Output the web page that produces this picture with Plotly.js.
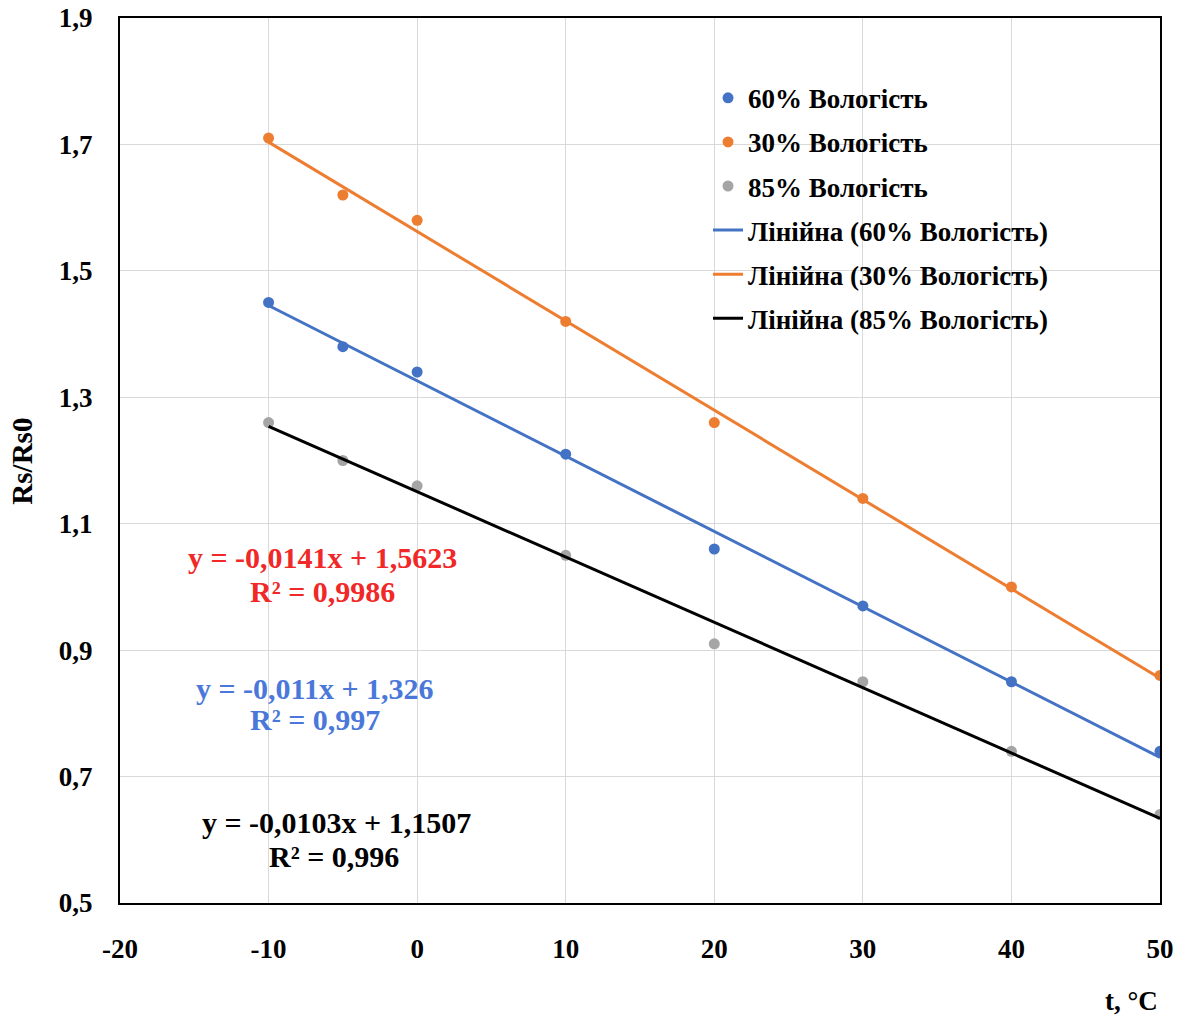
<!DOCTYPE html>
<html>
<head>
<meta charset="utf-8">
<script src="https://cdn.plot.ly/plotly-3.0.1.min.js"></script>
<style>html,body{margin:0;padding:0;background:#fff;}#chart{width:1184px;height:1019px;}</style>
</head>
<body>
<div id="chart"></div>
<script>
// ---- data ----
const temperature = [-10, -5, 0, 10, 20, 30, 40, 50];
const humidity60 = [1.45, 1.38, 1.34, 1.21, 1.06, 0.97, 0.85, 0.74];
const humidity30 = [1.71, 1.62, 1.58, 1.42, 1.26, 1.14, 1.00, 0.86];
const humidity85 = [1.26, 1.20, 1.16, 1.05, 0.91, 0.85, 0.74, 0.64];
const seriesNames = ['60% Вологість', '30% Вологість', '85% Вологість'];
const trendNames = ['Лінійна (60% Вологість)', 'Лінійна (30% Вологість)', 'Лінійна (85% Вологість)'];
const eqLines = ['y = -0,0141x + 1,5623', 'y = -0,011x + 1,326', 'y = -0,0103x + 1,1507'];
const r2Lines = ['R² = 0,9986', 'R² = 0,997', 'R² = 0,996'];
const xTicks = [-20, -10, 0, 10, 20, 30, 40, 50];
const yTicks = [0.5, 0.7, 0.9, 1.1, 1.3, 1.5, 1.7, 1.9];

const markerColors = ['#4472C4', '#ED7D31', '#A5A5A5'];
const lineColors = ['#4472C4', '#ED7D31', '#000000'];
const eqColors = ['#F02828', '#4A78DA', '#000000'];

function fit(xs, ys) {
  const n = xs.length;
  const mx = xs.reduce((a, b) => a + b, 0) / n;
  const my = ys.reduce((a, b) => a + b, 0) / n;
  let sxy = 0, sxx = 0;
  for (let i = 0; i < n; i++) { sxy += (xs[i] - mx) * (ys[i] - my); sxx += (xs[i] - mx) ** 2; }
  const k = sxy / sxx;
  return { k: k, b: my - k * mx };
}

const FONT = 'Liberation Serif, Times New Roman, serif';
const allY = [humidity60, humidity30, humidity85];
const traces = [];
allY.forEach((ys, i) => {
  traces.push({
    x: temperature, y: ys, mode: 'markers', type: 'scatter', name: seriesNames[i],
    legendgroup: 'm' + i,
    marker: { color: markerColors[i], size: 11 }
  });
});
allY.forEach((ys, i) => {
  const f = fit(temperature, ys);
  const xs = [temperature[0], temperature[temperature.length - 1]];
  traces.push({
    x: xs, y: xs.map(v => f.k * v + f.b), mode: 'lines', type: 'scatter', name: trendNames[i],
    legendgroup: 'l' + i,
    line: { color: lineColors[i], width: 3 }
  });
});

// equation label positions (data coords)
const eqX = [-6.4, -6.9, -5.45];
const eqY = [1.047, 0.840, 0.628];
const r2X = [-6.4, -6.85, -5.6];
const r2Y = [0.992, 0.790, 0.574];
const annotations = [];
eqLines.forEach((t, i) => {
  annotations.push({
    text: t, xref: 'x', yref: 'y', x: eqX[i], y: eqY[i],
    showarrow: false, xanchor: 'center', yanchor: 'middle',
    font: { family: FONT, size: 30, color: eqColors[i], weight: 'bold' }
  });
  annotations.push({
    text: r2Lines[i], xref: 'x', yref: 'y', x: r2X[i], y: r2Y[i],
    showarrow: false, xanchor: 'center', yanchor: 'middle',
    font: { family: FONT, size: 30, color: eqColors[i], weight: 'bold' }
  });
});
annotations.push({
  text: 'Rs/Rs0', xref: 'paper', yref: 'paper', x: -0.094, y: 0.499, textangle: -90,
  showarrow: false, xanchor: 'center', yanchor: 'middle',
  font: { family: FONT, size: 29, color: '#000', weight: 'bold' }
});
annotations.push({
  text: 't, °C', xref: 'paper', yref: 'paper', x: 1.0, y: -0.111,
  showarrow: false, xanchor: 'right', yanchor: 'middle',
  font: { family: FONT, size: 27, color: '#000', weight: 'bold' }
});

const layout = {
  width: 1184, height: 1019,
  margin: { l: 120, r: 24, t: 18, b: 116 },
  paper_bgcolor: '#fff', plot_bgcolor: '#fff',
  separators: ', ',
  font: { family: FONT, size: 27, color: '#000', weight: 'bold' },
  showlegend: true,
  legend: {
    x: 0.5654, y: 0.937, xanchor: 'left', yanchor: 'top',
    bgcolor: 'rgba(0,0,0,0)', tracegroupgap: 6, traceorder: 'grouped',
    font: { family: FONT, size: 27, color: '#000', weight: 'bold' }
  },
  xaxis: {
    range: [-20, 50], tickvals: xTicks, ticktext: xTicks.map(String),
    showgrid: true, gridcolor: '#D9D9D9', gridwidth: 1,
    zeroline: false, showline: true, linecolor: '#000', linewidth: 2, mirror: true,
    ticks: 'outside', ticklen: 21, tickcolor: 'rgba(0,0,0,0)',
    tickfont: { family: FONT, size: 27, color: '#000', weight: 'bold' }
  },
  yaxis: {
    range: [0.5, 1.9], tickvals: yTicks, tickformat: '.1f',
    showgrid: true, gridcolor: '#D9D9D9', gridwidth: 1,
    zeroline: false, showline: true, linecolor: '#000', linewidth: 2, mirror: true,
    ticks: 'outside', ticklen: 20, tickcolor: 'rgba(0,0,0,0)',
    tickfont: { family: FONT, size: 27, color: '#000', weight: 'bold' }
  },
  annotations: annotations
};

Plotly.newPlot('chart', traces, layout, { displayModeBar: false, staticPlot: true });
</script>
</body>
</html>
